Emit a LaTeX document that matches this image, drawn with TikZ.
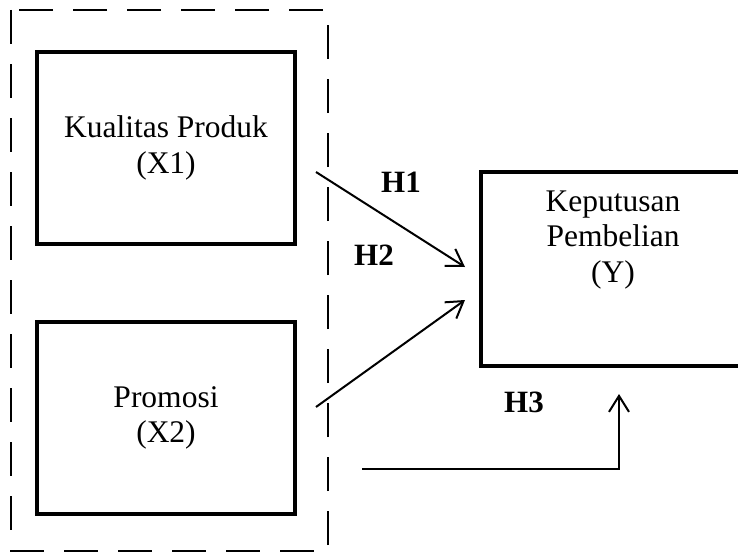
\documentclass[tikz,border=0pt]{standalone}
\usepackage{fontspec}
\setmainfont{Liberation Serif}
\usetikzlibrary{arrows.meta}
\tikzset{
  varbox/.style={draw,rectangle,line width=4.5pt,minimum width=258pt,
    minimum height=192pt,align=center,inner sep=0pt},
  hyp/.style={font=\fontsize{31}{36}\selectfont\bfseries},
  link/.style={line width=2pt,-{Straight Barb[length=16pt,width=20pt]}},
}
\begin{document}
\begin{tikzpicture}[x=1pt,y=-1pt,font=\fontsize{31.5}{35.5}\selectfont]
    \useasboundingbox (0,0) rectangle (738,551);
    % group of independent variables
    \draw[line width=2pt,dash pattern=on 34pt off 20pt] (11,10) rectangle (328,551);
    \node[varbox] (x1) at (166,148) {Kualitas Produk\\(X1)};
    \node[varbox] (x2) at (166,418) {Promosi\\(X2)};
    \node[varbox,minimum width=264pt,minimum height=194pt] (y) at (613,269) {};
    \node[align=center] (ylab) at (613,240) {Keputusan\\Pembelian\\(Y)};
    % free ends of the arrows
    \coordinate (h1s) at (316,172);
    \coordinate (h1e) at (465,267);
    \coordinate (h2s) at (316,407);
    \coordinate (h2e) at (465,300);
    \coordinate (h3s) at (362,469);
    \coordinate (h3e) at (619,394);
    \draw[link] (h1s) -- (h1e);
    \draw[link] (h2s) -- (h2e);
    \draw[link] (h3s) -| (h3e);
    \node[hyp] (h1) at (401,182) {H1};
    \node[hyp] (h2) at (374,255) {H2};
    \node[hyp] (h3) at (524,402) {H3};
\end{tikzpicture}
\end{document}
